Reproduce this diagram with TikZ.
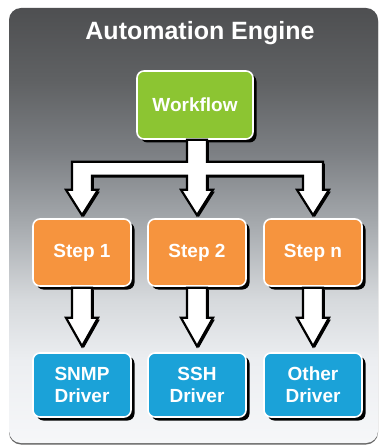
\documentclass[tikz,border=0pt]{standalone}
\usepackage{fontspec}
\setmainfont{Liberation Sans}
\usetikzlibrary{calc,shadows}
\definecolor{wfgreen}{RGB}{140,197,50}
\definecolor{steporange}{RGB}{246,148,62}
\definecolor{drvblue}{RGB}{27,162,216}
\pgfdeclareverticalshading{enginebg}{100bp}{
  rgb(0bp)=(0.965,0.969,0.976);
  rgb(25bp)=(0.965,0.969,0.976);
  rgb(34.5bp)=(0.925,0.933,0.945);
  rgb(41.5bp)=(0.839,0.851,0.863);
  rgb(50.5bp)=(0.643,0.659,0.675);
  rgb(58.5bp)=(0.486,0.498,0.514);
  rgb(66.5bp)=(0.376,0.384,0.392);
  rgb(75bp)=(0.306,0.310,0.318);
  rgb(100bp)=(0.306,0.310,0.318)}
\tikzset{
  boxbase/.style={rounded corners=7pt, draw=white, line width=1.6pt, text=white,
    font=\fontsize{19}{23}\selectfont\bfseries, align=center, inner sep=0pt,
    drop shadow={shadow xshift=3.5pt, shadow yshift=-3.5pt, fill=black, opacity=1}},
  wfbox/.style={boxbase, fill=wfgreen, minimum width=116pt, minimum height=68pt},
  stepbox/.style={boxbase, fill=steporange, minimum width=98pt, minimum height=67pt},
  drvbox/.style={boxbase, fill=drvblue, minimum width=98pt, minimum height=64pt},
  blockarrow/.style={fill=white, draw=black, line width=2.2pt, line join=miter,
    drop shadow={shadow xshift=1.8pt, shadow yshift=-1.8pt, fill=black, opacity=1}}
}
\begin{document}
\begin{tikzpicture}[x=1pt,y=-1pt]
\useasboundingbox (0,0) rectangle (380,446);
\fill[white] (0,0) rectangle (380,446);
% engine frame
\fill[black!60, rounded corners=12pt] (9,9.5) rectangle (378,444.5);
\shade[shading=enginebg, rounded corners=12pt] (9,8) rectangle (378,443);
\node[text=white, font=\fontsize{25}{30}\selectfont\bfseries] (title) at (200,33) {Automation Engine};
% boxes
\node[wfbox] (wf) at (195,105) {Workflow};
\node[stepbox] (s1) at (82,252.5) {Step 1};
\node[stepbox] (s2) at (197,252.5) {Step 2};
\node[stepbox] (s3) at (313,252.5) {Step n};
\node[drvbox] (d1) at (82,385) {SNMP\\[-1pt]Driver};
\node[drvbox] (d2) at (197,385) {SSH\\[-1pt]Driver};
\node[drvbox] (d3) at (313,385) {Other\\[-1pt]Driver};
% workflow to steps
\path[blockarrow] let \p0=(wf.south), \p1=(s1.north), \p2=(s2.north), \p3=(s3.north) in
  (\x2-10pt,\y0) -- (\x2-10pt,\y0-22pt) -- (\x1-10pt,\y0-22pt) -- (\x1-10pt,\y0-50pt)
  -- (\x1-16pt,\y0-50pt) -- (\x1,\y1+3pt) -- (\x1+16pt,\y0-50pt) -- (\x1+10pt,\y0-50pt)
  -- (\x1+10pt,\y0-36pt) -- (\x2-10pt,\y0-36pt) -- (\x2-10pt,\y0-50pt)
  -- (\x2-16pt,\y0-50pt) -- (\x2,\y2+3pt) -- (\x2+16pt,\y0-50pt) -- (\x2+10pt,\y0-50pt)
  -- (\x2+10pt,\y0-36pt) -- (\x3-10pt,\y0-36pt) -- (\x3-10pt,\y0-50pt)
  -- (\x3-16pt,\y0-50pt) -- (\x3,\y3+3pt) -- (\x3+16pt,\y0-50pt) -- (\x3+10pt,\y0-50pt)
  -- (\x3+10pt,\y0-22pt) -- (\x2+10pt,\y0-22pt) -- (\x2+10pt,\y0) -- cycle;
% steps to drivers
\foreach \a/\b in {s1/d1,s2/d2,s3/d3}{
  \path[blockarrow] let \p1=(\a.south), \p2=(\b.north) in
    (\x1-10pt,\y1-1pt) -- (\x1-10pt,\y1-31pt) -- (\x1-16pt,\y1-31pt) -- (\x1,\y2+6pt)
    -- (\x1+16pt,\y1-31pt) -- (\x1+10pt,\y1-31pt) -- (\x1+10pt,\y1-1pt) -- cycle;
}
\end{tikzpicture}
\end{document}
